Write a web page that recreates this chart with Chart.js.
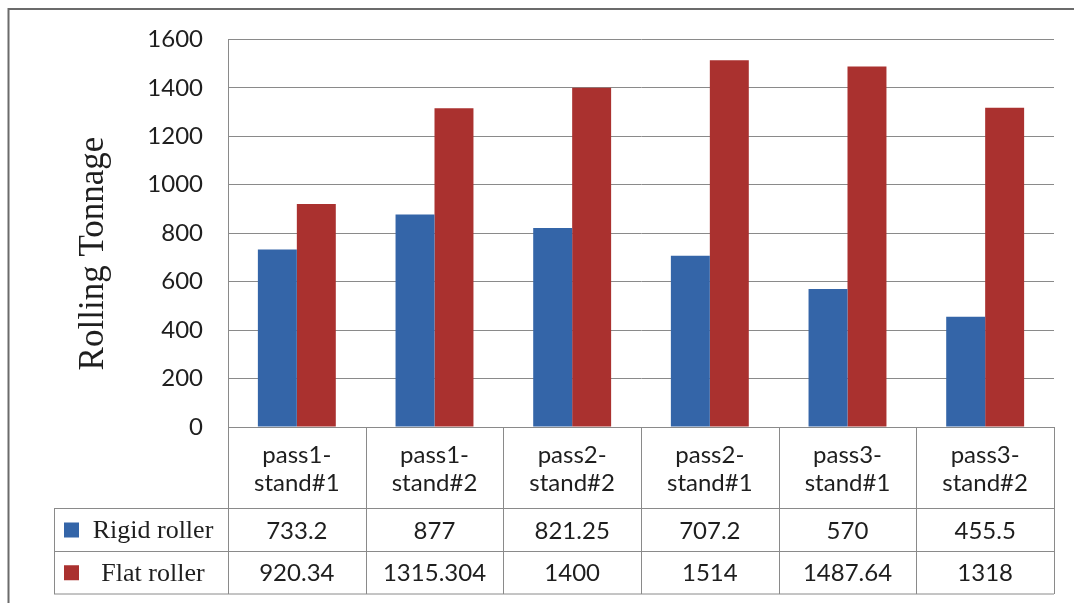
<!DOCTYPE html>
<html>
<head>
<meta charset="utf-8">
<script src="https://cdn.jsdelivr.net/npm/chart.js@4/dist/chart.umd.min.js"></script>
<style>
  html, body { margin: 0; padding: 0; background: #ffffff; }
  #wrap { width: 1074px; height: 603px; position: relative; }
</style>
</head>
<body>
<div id="wrap"><canvas id="c" width="1074" height="603"></canvas></div>
<script>
// Rolling tonnage per pass / stand
const categories = [
  ['pass1-', 'stand#1'],
  ['pass1-', 'stand#2'],
  ['pass2-', 'stand#2'],
  ['pass2-', 'stand#1'],
  ['pass3-', 'stand#1'],
  ['pass3-', 'stand#2']
];
const rigidRoller = [733.2, 877, 821.25, 707.2, 570, 455.5];
const flatRoller = [920.34, 1315.304, 1400, 1514, 1487.64, 1318];
const seriesNames = ['Rigid roller', 'Flat roller'];
const yTicks = [0, 200, 400, 600, 800, 1000, 1200, 1400, 1600];
const yTitle = 'Rolling Tonnage';

const BLUE = '#3465A8';
const RED = '#AA312F';
const LINE = '#8a8a8a';
const INK = '#1e1e1e';
const SANS = 'Lato, "Open Sans", sans-serif';
const SERIF = '"Liberation Serif", "DejaVu Serif", serif';

// Formats a value the way the data table shows it
function fmt(v) { return String(v); }

// Frame around the figure
const framePlugin = {
  id: 'frame',
  beforeDraw(chart) {
    const ctx = chart.ctx;
    ctx.save();
    ctx.fillStyle = '#ffffff';
    ctx.fillRect(0, 0, chart.width, chart.height);
    ctx.strokeStyle = '#6b6b6b';
    ctx.lineWidth = 2;
    ctx.beginPath();
    ctx.moveTo(8.5, chart.height);
    ctx.lineTo(8.5, 9);
    ctx.lineTo(chart.width, 9);
    ctx.stroke();
    ctx.restore();
  }
};

// Vertical value-axis title, set a little below the axis midpoint
const yTitlePlugin = {
  id: 'yTitle',
  afterDraw(chart) {
    const ctx = chart.ctx;
    ctx.save();
    ctx.translate(103, 253.5);
    ctx.rotate(-Math.PI / 2);
    ctx.fillStyle = INK;
    ctx.font = '35px ' + SERIF;
    ctx.textAlign = 'center';
    ctx.textBaseline = 'alphabetic';
    ctx.fillText(yTitle, 0, 0);
    ctx.restore();
  }
};

// Data table under the category axis
const tablePlugin = {
  id: 'dataTable',
  afterDraw(chart) {
    const ctx = chart.ctx;
    const xs = chart.scales.x;
    const area = chart.chartArea;
    const n = categories.length;
    const half = (xs.getPixelForValue(1) - xs.getPixelForValue(0)) / 2;
    const right = area.right;
    const legendLeft = 54;
    const rowTop1 = 508.5;
    const rowTop2 = 551.5;
    const rowBottom = 594;

    ctx.save();
    ctx.strokeStyle = LINE;
    ctx.lineWidth = 1;
    ctx.beginPath();
    // horizontal rules
    [rowTop1, rowTop2, rowBottom].forEach(y => {
      ctx.moveTo(legendLeft, y);
      ctx.lineTo(right, y);
    });
    // left edge of the series label column
    ctx.moveTo(legendLeft + 0.5, rowTop1);
    ctx.lineTo(legendLeft + 0.5, rowBottom);
    // column separators
    for (let i = 0; i <= n; i++) {
      const x = Math.round(i < n ? xs.getPixelForValue(i) - half : xs.getPixelForValue(n - 1) + half) + 0.5;
      ctx.moveTo(x, area.bottom);
      ctx.lineTo(x, rowBottom);
    }
    ctx.stroke();

    const rows = [
      { name: seriesNames[0], color: BLUE, values: rigidRoller, y: (rowTop1 + rowTop2) / 2 },
      { name: seriesNames[1], color: RED, values: flatRoller, y: (rowTop2 + rowBottom) / 2 }
    ];
    ctx.textBaseline = 'middle';
    rows.forEach(r => {
      ctx.fillStyle = r.color;
      ctx.fillRect(64, r.y - 7.5, 15, 15);
      ctx.fillStyle = INK;
      ctx.font = '26px ' + SERIF;
      ctx.textAlign = 'center';
      ctx.fillText(r.name, 153, r.y + 1);
      ctx.font = '24px ' + SANS;
      r.values.forEach((v, i) => {
        ctx.fillText(fmt(v), xs.getPixelForValue(i), r.y + 1);
      });
    });
    ctx.restore();
  }
};

new Chart(document.getElementById('c'), {
  type: 'bar',
  data: {
    labels: categories,
    datasets: [
      { label: seriesNames[0], data: rigidRoller, backgroundColor: BLUE, borderWidth: 0 },
      { label: seriesNames[1], data: flatRoller, backgroundColor: RED, borderWidth: 0 }
    ]
  },
  options: {
    responsive: false,
    animation: false,
    devicePixelRatio: 1,
    layout: { padding: { top: 39, right: 20, left: 0, bottom: 0 } },
    datasets: { bar: { categoryPercentage: 0.566, barPercentage: 1.0 } },
    plugins: { legend: { display: false }, tooltip: { enabled: false } },
    scales: {
      x: {
        grid: { display: false, drawTicks: false },
        border: { display: false },
        ticks: {
          color: INK,
          padding: 14,
          maxRotation: 0,
          autoSkip: false,
          font: { family: SANS, size: 24, lineHeight: 1.17 }
        },
        afterFit(scale) { scale.height = 176; }
      },
      y: {
        min: 0,
        max: 1600,
        afterBuildTicks(scale) { scale.ticks = yTicks.map(v => ({ value: v })); },
        grid: { color: LINE, lineWidth: 1, drawTicks: false },
        border: { display: true, color: LINE, width: 1 },
        ticks: {
          color: INK,
          padding: 25,
          font: { family: SANS, size: 24 },
          callback: (v) => String(v)
        },
        title: { display: false },
        afterFit(scale) { scale.width = 228; }
      }
    }
  },
  plugins: [framePlugin, yTitlePlugin, tablePlugin]
});
</script>
</body>
</html>
